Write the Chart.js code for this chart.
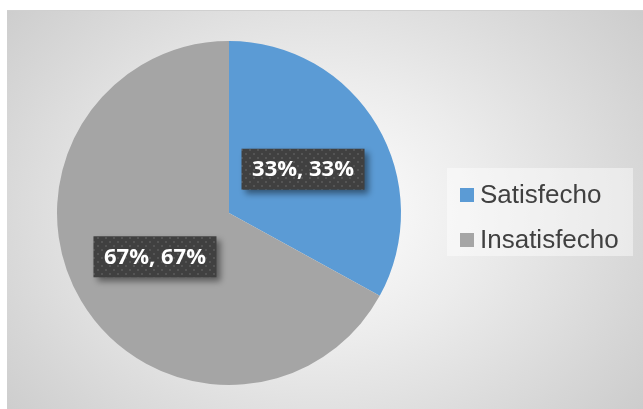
<!DOCTYPE html>
<html>
<head>
<meta charset="utf-8">
<script src="https://cdn.jsdelivr.net/npm/chart.js@4"></script>
<style>
  html, body { margin: 0; padding: 0; background: #fff; }
  #frame {
    position: absolute; left: 7px; top: 10px; width: 636px; height: 399px;
    background: radial-gradient(ellipse 75% 95% at 49% 50%, #ffffff 0%, #ececec 35%, #d6d6d6 70%, #c4c4c4 100%);
    border-top: 1px solid #d0d0d0; box-sizing: border-box;
  }
  #chartBox { position: absolute; left: 0; top: 0; width: 636px; height: 399px; }
  #legend {
    position: absolute; left: 440px; top: 157px; width: 186px; height: 88px;
    background: rgba(255,255,255,0.45);
    font-family: "Liberation Sans", Arial, sans-serif; font-size: 26px; color: #404040;
  }
  .item { position: absolute; left: 13px; height: 30px; line-height: 30px; white-space: nowrap; }
  .sw { display: inline-block; width: 14px; height: 14px; margin-right: 6px; vertical-align: 1px; }
</style>
</head>
<body>
<div id="frame">
  <div id="chartBox"><canvas id="pie" width="636" height="399"></canvas></div>
  <div id="legend"></div>
</div>
<script>
// chart data
const categories = ['Satisfecho', 'Insatisfecho'];
const values = [33, 67];
const sliceLabels = ['33%, 33%', '67%, 67%'];
const colors = ['#5b9bd5', '#a5a5a5'];

// dotted dark pattern for the data label boxes
function makePattern(ctx) {
  const p = document.createElement('canvas');
  p.width = 8; p.height = 8;
  const pc = p.getContext('2d');
  pc.fillStyle = '#404040';
  pc.fillRect(0, 0, 8, 8);
  pc.fillStyle = '#545454';
  pc.fillRect(2, 2, 2, 2);
  pc.fillRect(6, 6, 2, 2);
  return ctx.createPattern(p, 'repeat');
}

const boxLabels = {
  id: 'boxLabels',
  afterDatasetsDraw(chart) {
    const ctx = chart.ctx;
    const meta = chart.getDatasetMeta(0);
    const pattern = makePattern(ctx);
    meta.data.forEach((arc, i) => {
      const pos = arc.tooltipPosition();
      const w = 123, h = 41;
      ctx.save();
      ctx.shadowColor = 'rgba(0,0,0,0.45)';
      ctx.shadowBlur = 6;
      ctx.shadowOffsetX = 4;
      ctx.shadowOffsetY = 4;
      ctx.fillStyle = pattern;
      ctx.fillRect(pos.x - w / 2, pos.y - h / 2, w, h);
      ctx.restore();
      ctx.save();
      ctx.fillStyle = '#ffffff';
      ctx.font = 'bold 22px "Open Sans", sans-serif';
      ctx.textAlign = 'center';
      ctx.textBaseline = 'middle';
      ctx.fillText(sliceLabels[i], pos.x, pos.y + 1);
      ctx.restore();
    });
  }
};

new Chart(document.getElementById('pie'), {
  type: 'pie',
  data: {
    labels: categories,
    datasets: [{
      data: values,
      backgroundColor: colors,
      borderWidth: 0,
      hoverOffset: 0
    }]
  },
  options: {
    responsive: false,
    animation: false,
    layout: { padding: { left: 50, right: 242, top: 30, bottom: 25 } },
    plugins: {
      legend: { display: false },
      tooltip: { enabled: false }
    }
  },
  plugins: [boxLabels]
});

// legend built from the same arrays
const legend = document.getElementById('legend');
categories.forEach((c, i) => {
  const d = document.createElement('div');
  d.className = 'item';
  d.style.top = (11 + i * 45) + 'px';
  d.innerHTML = '<span class="sw" style="background:' + colors[i] + '"></span>' + c;
  legend.appendChild(d);
});
</script>
</body>
</html>
